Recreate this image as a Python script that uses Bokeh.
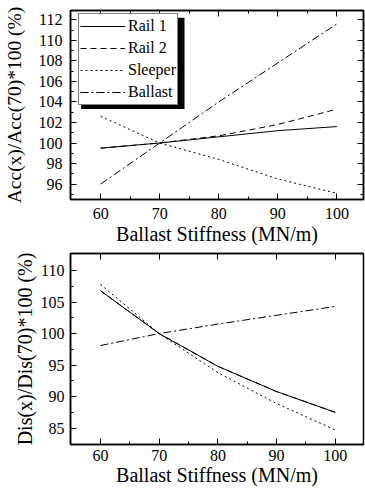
from bokeh.plotting import figure
from bokeh.models import LinearAxis, Legend, LegendItem, Range1d, FixedTicker
from bokeh.layouts import column
from bokeh.embed import file_html
from bokeh.resources import INLINE

# ---- data ----
stiffness = [60, 70, 80, 90, 100]

acc_rail1 = [99.5, 100.0, 100.6, 101.2, 101.6]
acc_rail2 = [99.5, 100.0, 100.7, 101.8, 103.3]
acc_sleeper = [102.6, 100.0, 98.4, 96.5, 95.1]
acc_ballast = [96.0, 100.0, 104.0, 107.8, 111.6]

dis_rail1 = [106.8, 100.0, 94.8, 90.8, 87.5]
dis_rail2 = [106.8, 100.0, 94.8, 90.8, 87.5]
dis_sleeper = [107.8, 100.0, 93.8, 88.9, 84.7]
dis_ballast = [98.1, 100.0, 101.5, 102.9, 104.3]

x_major = [60, 70, 80, 90, 100]
x_minor = [65, 75, 85, 95]
acc_major = [96, 98, 100, 102, 104, 106, 108, 110, 112]
acc_minor = [95, 97, 99, 101, 103, 105, 107, 109, 111]
dis_major = [85, 90, 95, 100, 105, 110]
dis_minor = [87.5, 92.5, 97.5, 102.5, 107.5]

series_names = ["Rail 1", "Rail 2", "Sleeper", "Ballast"]
dashes = ["solid", "6 4", "2 3", "8 3 2 3"]

# legend shadow box (decoration, in data units of the top plot)
shadow_left, shadow_right = [56.7], [74.2]
shadow_bottom, shadow_top = [103.3], [112.2]

FONT = "Liberation Serif"


def style_axis(ax, labels=True, label_standoff=8):
    ax.axis_line_color = "black"
    ax.axis_line_width = 1.5
    ax.major_tick_in = 6
    ax.major_tick_out = 0
    ax.minor_tick_in = 3
    ax.minor_tick_out = 0
    ax.major_tick_line_color = "black"
    ax.minor_tick_line_color = "black"
    ax.major_label_text_font = FONT
    ax.major_label_text_color = "black"
    ax.axis_label_text_font = FONT
    ax.axis_label_text_font_size = "20px"
    ax.axis_label_text_font_style = "normal"
    ax.axis_label_text_color = "black"
    if labels:
        ax.major_label_text_font_size = "16px"
        ax.major_label_standoff = label_standoff
    else:
        ax.major_label_text_font_size = "1px"
        ax.major_label_text_color = None
        ax.major_label_standoff = 0


def make_fig(height, yr, xr, top, left, right):
    p = figure(width=365, height=height, output_backend="svg", toolbar_location=None,
               x_range=Range1d(*xr), y_range=Range1d(*yr),
               min_border_left=left, min_border_right=right,
               min_border_top=top, min_border_bottom=0)
    p.xgrid.visible = False
    p.ygrid.visible = False
    p.outline_line_color = "black"
    p.outline_line_width = 1.5
    return p


# ---- top figure ----
p1 = make_fig(247, (94.5, 112.9), (54.9, 104.5), 10, 64, 1)
p1.xaxis.ticker = FixedTicker(ticks=x_major, minor_ticks=x_minor)
p1.yaxis.ticker = FixedTicker(ticks=acc_major, minor_ticks=acc_minor)
style_axis(p1.xaxis[0], True, 8)
style_axis(p1.yaxis[0], True, 8)
p1.xaxis.axis_label = "Ballast Stiffness (MN/m)"
p1.xaxis.axis_label_standoff = 1
p1.yaxis.axis_label = "Acc(x)/Acc(70)*100 (%)"
p1.yaxis.axis_label_standoff = 11
p1.yaxis.axis_label_text_font_size = "19.5px"
ax_top = LinearAxis(ticker=FixedTicker(ticks=x_major, minor_ticks=x_minor))
style_axis(ax_top, False)
p1.add_layout(ax_top, "above")
ax_right = LinearAxis(ticker=FixedTicker(ticks=acc_major, minor_ticks=acc_minor))
style_axis(ax_right, False)
p1.add_layout(ax_right, "right")

# legend shadow drawn below the legend
p1.quad(left=shadow_left, right=shadow_right, bottom=shadow_bottom, top=shadow_top,
        fill_color="black", line_color=None)

acc_series = [acc_rail1, acc_rail2, acc_sleeper, acc_ballast]
renderers = []
for vals, dash in zip(acc_series, dashes):
    r = p1.line(stiffness, vals, line_color="black", line_width=1, line_dash=dash)
    renderers.append(r)

legend = Legend(items=[LegendItem(label=n, renderers=[r]) for n, r in zip(series_names, renderers)],
                location=(8, 94), margin=0, padding=1, spacing=0,
                glyph_width=45, glyph_height=22, label_height=22, label_standoff=3,
                label_text_font=FONT, label_text_font_size="16px", label_text_color="black",
                border_line_color="black", border_line_width=1,
                background_fill_color="white", background_fill_alpha=1)
p1.add_layout(legend)

# ---- bottom figure ----
p2 = make_fig(241, (82.4, 112.7), (54.9, 104.8), 6, 61, 2)
p2.xaxis.ticker = FixedTicker(ticks=x_major, minor_ticks=x_minor)
p2.yaxis.ticker = FixedTicker(ticks=dis_major, minor_ticks=dis_minor)
style_axis(p2.xaxis[0], True, 5)
style_axis(p2.yaxis[0], True, 6)
p2.xaxis.axis_label = "Ballast Stiffness (MN/m)"
p2.xaxis.axis_label_standoff = 0
p2.yaxis.axis_label = "Dis(x)/Dis(70)*100 (%)"
p2.yaxis.axis_label_standoff = 2
ax_top2 = LinearAxis(ticker=FixedTicker(ticks=x_major, minor_ticks=[]))
style_axis(ax_top2, False)
p2.add_layout(ax_top2, "above")

dis_series = [dis_rail1, dis_rail2, dis_sleeper, dis_ballast]
for vals, dash in zip(dis_series, dashes):
    p2.line(stiffness, vals, line_color="black", line_width=1, line_dash=dash)

layout = column(p1, p2, spacing=0)
open("out.html", "w").write(file_html(layout, INLINE))
